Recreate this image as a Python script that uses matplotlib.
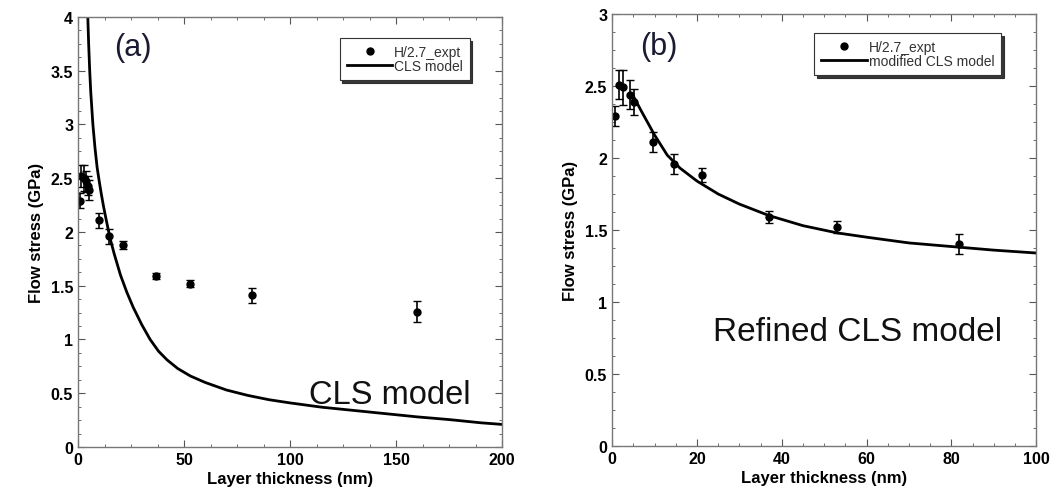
import numpy as np
import matplotlib
matplotlib.use("Agg")
from matplotlib import pyplot as plt
from matplotlib.ticker import AutoMinorLocator

plt.rcParams['font.family'] = ['Liberation Sans', 'DejaVu Sans']

# experimental data, panel (a)
expt_x_a = [0.8, 1.6, 2.6, 3.6, 4.6, 5.4, 9.8, 14.8, 21.0, 37.0, 53.0, 82.0, 160.0]
expt_y_a = [2.29, 2.52, 2.50, 2.47, 2.43, 2.39, 2.11, 1.96, 1.88, 1.59, 1.52, 1.41, 1.26]
expt_e_a = [0.07, 0.10, 0.12, 0.10, 0.09, 0.09, 0.07, 0.07, 0.04, 0.03, 0.03, 0.07, 0.10]

# CLS model curve
cls_x = [4.6, 5, 5.5, 6, 7, 8, 9, 10, 11, 12, 13, 15, 17, 20, 23, 26, 30, 34, 38, 42,
         47, 53, 60, 70, 80, 90, 100, 115, 130, 145, 160, 175, 190, 200]
cls_y = [4.0, 3.75, 3.5, 3.3, 3.0, 2.78, 2.6, 2.47, 2.35, 2.24, 2.14, 1.95, 1.80, 1.60,
         1.44, 1.30, 1.14, 1.00, 0.89, 0.81, 0.73, 0.66, 0.60, 0.53, 0.48, 0.44, 0.41,
         0.37, 0.34, 0.31, 0.28, 0.255, 0.225, 0.21]

# experimental data, panel (b)
expt_x_b = [0.8, 1.6, 2.6, 4.2, 5.1, 9.6, 14.7, 21.2, 37.0, 53.1, 81.9]
expt_y_b = [2.29, 2.51, 2.49, 2.44, 2.39, 2.11, 1.96, 1.88, 1.59, 1.52, 1.40]
expt_e_b = [0.07, 0.10, 0.12, 0.10, 0.09, 0.07, 0.07, 0.05, 0.04, 0.04, 0.07]

# modified CLS model curve
mcls_x = [5, 7, 10, 13, 16, 20, 25, 30, 37, 45, 53, 60, 70, 82, 90, 100]
mcls_y = [2.43, 2.32, 2.16, 2.02, 1.93, 1.84, 1.75, 1.68, 1.60, 1.53, 1.48, 1.45, 1.41, 1.38, 1.36, 1.34]

fig = plt.figure(figsize=(10.59, 5.02), dpi=100)
ax1 = fig.add_axes([0.0737, 0.1076, 0.4004, 0.8566])
ax2 = fig.add_axes([0.578, 0.1096, 0.4004, 0.8606])


def style(ax, xmax, ymax, xstep, ystep):
    ax.set_xlim(0, xmax)
    ax.set_ylim(0, ymax)
    ax.set_xticks(np.arange(0, xmax + 0.1, xstep))
    ax.set_yticks(np.arange(0, ymax + 0.01, ystep))
    ax.set_yticklabels(['%g' % v for v in np.arange(0, ymax + 0.01, ystep)])
    ax.xaxis.set_minor_locator(AutoMinorLocator(4))
    ax.yaxis.set_minor_locator(AutoMinorLocator(4))
    ax.tick_params(which='both', direction='in', top=True, right=True, colors='#555555',
                   labelcolor='black')
    ax.tick_params(which='major', length=5, labelsize=11.5)
    ax.tick_params(which='minor', length=2.5)
    for lab in ax.get_xticklabels() + ax.get_yticklabels():
        lab.set_fontweight('bold')
    for s in ax.spines.values():
        s.set_color('#777777')
        s.set_linewidth(1.0)
    ax.set_xlabel('Layer thickness (nm)', fontsize=12, fontweight='bold', labelpad=3)
    ax.set_ylabel('Flow stress (GPa)', fontsize=12, fontweight='bold', labelpad=5)


def legend(ax, handles, anchor, fs):
    leg = ax.legend(handles=handles, loc='upper right', bbox_to_anchor=anchor, fontsize=fs,
                    frameon=True, fancybox=False, shadow={'color': '#222222', 'alpha': 0.9},
                    borderpad=0.5, handlelength=3.3, handletextpad=0.1, labelspacing=0.0)
    leg.get_frame().set_edgecolor('#333333')
    leg.get_frame().set_linewidth(0.8)
    for t in leg.get_texts():
        t.set_color('#333333')


eb1 = ax1.errorbar(expt_x_a, expt_y_a, yerr=expt_e_a, fmt='o', color='black', ms=5,
                   capsize=3, elinewidth=1.2, capthick=1.0)
eb1[0].set_label('H/2.7_expt')
ln1, = ax1.plot(cls_x, cls_y, color='black', lw=2, label='CLS model')
style(ax1, 200, 4, 50, 0.5)
legend(ax1, [eb1[0], ln1], (0.94, 0.967), 10)
ax1.text(0.085, 0.93, '(a)', transform=ax1.transAxes, fontsize=22, color='#1a1a33', va='center')
ax1.text(0.925, 0.123, 'CLS model', transform=ax1.transAxes, fontsize=23.5, color='#111111',
         ha='right', va='center')

eb2 = ax2.errorbar(expt_x_b, expt_y_b, yerr=expt_e_b, fmt='o', color='black', ms=5,
                   capsize=3, elinewidth=1.2, capthick=1.0)
eb2[0].set_label('H/2.7_expt')
ln2, = ax2.plot(mcls_x, mcls_y, color='black', lw=2, label='modified CLS model')
style(ax2, 100, 3, 20, 0.5)
legend(ax2, [eb2[0], ln2], (0.934, 0.972), 10)
ax2.text(0.065, 0.925, '(b)', transform=ax2.transAxes, fontsize=22, color='#1a1a33', va='center')
ax2.text(0.92, 0.265, 'Refined CLS model', transform=ax2.transAxes, fontsize=24, color='#111111',
         ha='right', va='center')

fig.savefig('out.png', dpi=100)
